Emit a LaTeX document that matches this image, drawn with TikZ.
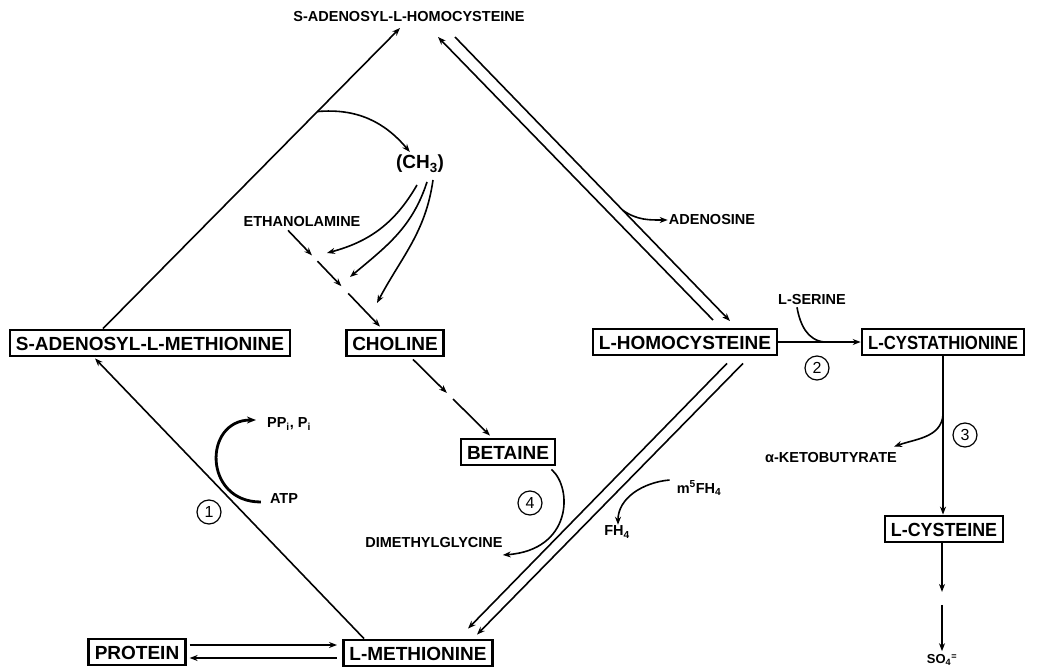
\documentclass[tikz,border=0pt]{standalone}
\usepackage{fontspec}
\usepackage{graphicx}
\setmainfont{Liberation Sans}
\usetikzlibrary{arrows.meta,calc}
\begin{document}
\begin{tikzpicture}[x=1pt,y=-1pt,
  box/.style={draw,line width=2.8pt,inner xsep=6pt,inner ysep=6pt,
    text height=14pt,text depth=0pt,font=\bfseries\fontsize{19}{19}\selectfont},
  lbl/.style={inner sep=1pt,font=\bfseries\fontsize{14.5}{14.5}\selectfont},
  num/.style={circle,draw,line width=1.2pt,minimum size=24pt,inner sep=0pt,
    font=\fontsize{16}{16}\selectfont},
  conn/.style={line width=1.6pt},
  arr/.style={conn,-{Stealth[length=8pt,width=6pt]}},
  bigarr/.style={line width=2.8pt,-{Stealth[length=9pt,width=7pt]}},
]
\fill[white] (0,0) rectangle (1039,671);
\useasboundingbox (0,0) rectangle (1039,671);

% boxed metabolites
\node[box] (sam) at (150,343) {S-ADENOSYL-L-METHIONINE};
\node[box] (choline) at (395,343) {CHOLINE};
\node[box] (hcy) at (685,342) {L-HOMOCYSTEINE};
\node[box] (cysta) at (943,342) {\scalebox{0.88}[1]{L-CYSTATHIONINE}};
\node[box] (betaine) at (508,452) {BETAINE};
\node[box] (cys) at (944,529) {\scalebox{0.94}[1]{L-CYSTEINE}};
\node[box] (protein) at (137,652) {PROTEIN};
\node[box] (met) at (418,653) {L-METHIONINE};

% free labels
\node[lbl] (sah) at (409,17) {S-ADENOSYL-L-HOMOCYSTEINE};
\node[inner sep=1pt,font=\bfseries\fontsize{19}{19}\selectfont] (ch3) at (420,164) {(CH\textsubscript{3})};
\node[lbl] (ethanol) at (302,222) {ETHANOLAMINE};
\node[lbl] (adenosine) at (712,220) {ADENOSINE};
\node[lbl] (serine) at (812,300) {L-SERINE};
\node[lbl] (keto) at (831,458) {α-KETOBUTYRATE};
\node[lbl] (m5fh4) at (699,488) {m\textsuperscript{5}FH\textsubscript{4}};
\node[lbl] (fh4) at (617,532) {FH\textsubscript{4}};
\node[lbl] (dmg) at (434,543) {DIMETHYLGLYCINE};
\node[lbl] (ppi) at (289,424) {PP\textsubscript{i}, P\textsubscript{i}};
\node[lbl] (atp) at (284,499) {ATP};
\node[lbl,font=\bfseries\fontsize{13}{13}\selectfont] (so4) at (942,660) {SO\textsubscript{4}\textsuperscript{=}};

% enzyme numbers
\node[num] (n1) at (209,512) {1};
\node[num] (n2) at (817,368) {2};
\node[num] (n3) at (965,435) {3};
\node[num] (n4) at (530,503) {4};

% free ends near S-adenosyl-L-homocysteine
\coordinate (sahA) at (400,28);
\coordinate (sahB) at (438,37);
\coordinate (sahC) at (455,37);
\coordinate (hcyA) at (713,320);
\coordinate (hcyB) at (730,321);

% SAM -> SAH, with methyl transfer branch
\draw[arr] ($(sam.north)+(-47,0)$) -- (sahA) coordinate[pos=0.722] (br1);
\draw[arr] (br1) to[out=5,in=130] ($(ch3.north west)+(15,-2)$);

% SAH <-> homocysteine
\draw[arr] (hcyA) -- (sahB);
\draw[arr] (sahC) -- (hcyB) coordinate[pos=0.61] (br2);
\draw[arr] (br2) to[out=-35,in=180] (adenosine.west);

% ethanolamine -> choline, methylated in three steps
\coordinate (e0) at ($(ethanol.south)+(-14,2)$);
\coordinate (e1) at ($(choline.north)+(-15,-2)$);
\draw[arr] (e0) -- ($(e0)!0.26!(e1)$);
\draw[arr] ($(e0)!0.32!(e1)$) -- ($(e0)!0.58!(e1)$);
\draw[arr] ($(e0)!0.655!(e1)$) -- (e1);
\coordinate (m1) at (417,185);
\coordinate (m2) at (427,182);
\coordinate (m3) at (433,180);
\coordinate (t1) at (327,253);
\coordinate (t2) at (350,277);
\coordinate (t3) at (377,303);
\draw[arr] (m1) to[out=-120,in=15] (t1);
\draw[arr] (m2) to[out=-108,in=40] (t2);
\draw[arr] (m3) to[out=-98,in=62] (t3);

% choline -> betaine
\coordinate (c0) at ($(choline.south)+(18,2)$);
\coordinate (c1) at ($(betaine.north)+(-18,-2)$);
\draw[arr] (c0) -- ($(c0)!0.44!(c1)$);
\draw[arr] ($(c0)!0.52!(c1)$) -- (c1);

% homocysteine -> methionine (two routes)
\draw[arr] ($(hcy.south)+(42,7)$) -- ($(met.north)+(50,-10)$);
\draw[arr] ($(hcy.south)+(58,7)$) -- ($(met.north)+(59,-4)$);

% betaine -> dimethylglycine
\draw[arr] ($(betaine.south east)+(-5,3)$) .. controls (573,488) and (572,550) .. ($(dmg.east)+(-1,12)$);

% m5FH4 -> FH4
\draw[arr] ($(m5fh4.west)+(-6,-8)$) to[out=185,in=90] ($(fh4.north)+(1,0)$);

% homocysteine -> cystathionine, with serine
\draw[arr] (hcy.east) -- (cysta.west) coordinate[pos=0.56] (sermerge);
\draw[conn] ($(serine.south)+(-15,1)$) to[out=-80,in=175] (sermerge);

% cystathionine -> cysteine, releasing ketobutyrate
\draw[arr] (cysta.south) -- (cysta.south |- cys.north) coordinate[pos=0.37] (br3);
\draw[arr] (br3) to[out=-95,in=20] ($(keto.north east)+(-4,-5)$);

% cysteine -> sulfate
\coordinate (s0) at ($(cys.south)+(-2,0)$);
\coordinate (s1) at ($(so4.north)+(0,-2)$);
\draw[arr] (s0) -- ($(s0)!0.45!(s1)$);
\draw[arr] ($(s0)!0.57!(s1)$) -- (s1);

% methionine -> SAM, driven by ATP
\draw[arr] ($(met.north west)+(22,0)$) -- ($(sam.south)+(-55,1)$);
\draw[bigarr] ($(atp.west)+(-8,3)$) .. controls (203,502) and (203,420) .. ($(ppi.west)+(-10,-4)$);

% protein <-> methionine
\draw[arr] ($(protein.east)+(3,-7)$) -- ($(met.west)+(-5,-8)$);
\draw[arr] ($(met.west)+(-5,5)$) -- ($(protein.east)+(3,6)$);
\end{tikzpicture}
\end{document}
